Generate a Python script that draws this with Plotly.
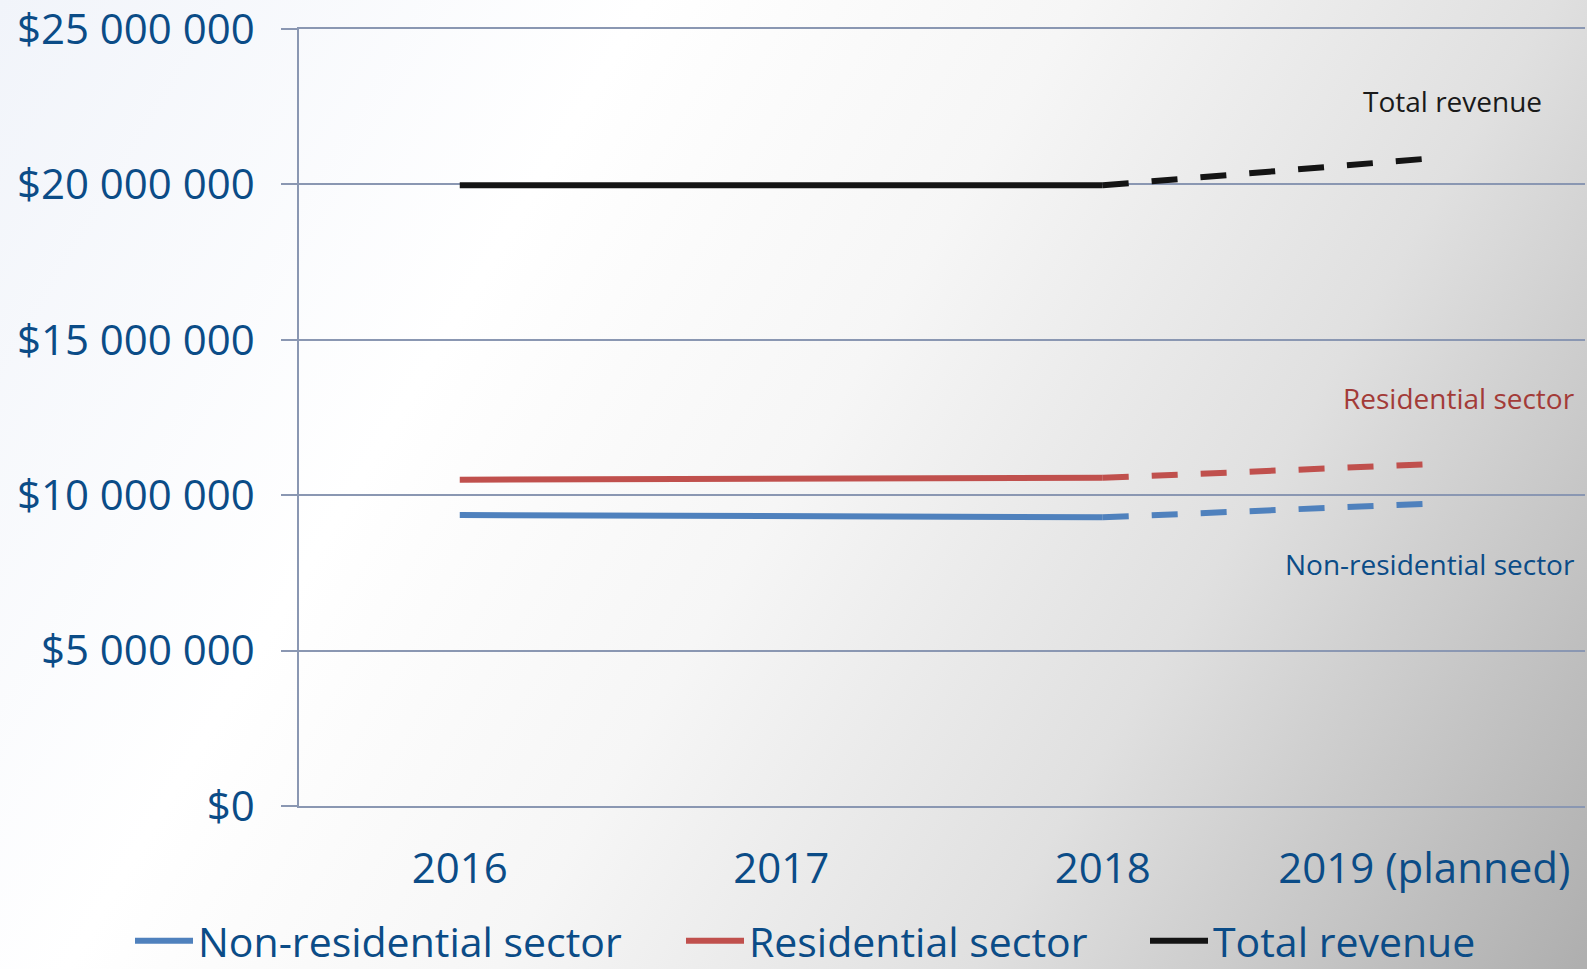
import base64
import plotly.graph_objects as go

years = ["2016", "2017", "2018", "2019 (planned)"]
non_residential = [9.36e6, 9.33e6, 9.29e6, 9.72e6]
residential = [10.50e6, 10.53e6, 10.56e6, 10.99e6]
total = [19.97e6, 19.98e6, 19.97e6, 20.82e6]
series_names = ["Non-residential sector", "Residential sector", "Total revenue"]
colors = ["#4F81BD", "#C0504D", "#141414"]
y_tickvals = [0, 5e6, 10e6, 15e6, 20e6, 25e6]
y_ticktext = ["$0", "$5 000 000", "$10 000 000", "$15 000 000", "$20 000 000", "$25 000 000"]

W, H = 1587, 969
L, R, T, B = 299, 2, 29, 163
pw, ph = W - L - R, H - T - B

TXT = "#0B4C87"
FONT = "Open Sans"
GRID = "#8A97B2"

legend_ids = ["legend", "legend2", "legend3"]
legend_x_px = [130, 681, 1145]

fig = go.Figure()
for name, vals, col, lg in zip(series_names, [non_residential, residential, total], colors, legend_ids):
    fig.add_trace(go.Scatter(x=years[:3], y=vals[:3], mode="lines", name=name,
                             line=dict(color=col, width=6), legendgroup=name, legend=lg))
    fig.add_trace(go.Scatter(x=years[2:], y=vals[2:], mode="lines", name=name,
                             line=dict(color=col, width=6, dash="26px,23px"),
                             showlegend=False, legendgroup=name, legend=lg))

svg = f'''<svg xmlns="http://www.w3.org/2000/svg" width="{W}" height="{H}" viewBox="0 0 {W} {H}" preserveAspectRatio="none">
<defs><linearGradient id="g" gradientUnits="userSpaceOnUse" x1="0" y1="0" x2="{W}" y2="952">
<stop offset="0" stop-color="#F1F4FA"/>
<stop offset="0.30" stop-color="#FFFFFF"/>
<stop offset="0.50" stop-color="#F6F6F6"/>
<stop offset="0.72" stop-color="#E0E0E0"/>
<stop offset="1" stop-color="#AFAFAF"/>
</linearGradient></defs>
<rect x="0" y="0" width="{W}" height="{H}" fill="url(#g)"/></svg>'''
src = "data:image/svg+xml;base64," + base64.b64encode(svg.encode()).decode()

legend_common = dict(orientation="h", xanchor="left", yanchor="middle",
                     bgcolor="rgba(0,0,0,0)", itemwidth=58,
                     font=dict(size=41, color=TXT, family=FONT))
legend_y = -(941 - (H - B)) / ph

fig.update_layout(
    width=W, height=H,
    margin=dict(l=L, r=R, t=T, b=B, autoexpand=False),
    paper_bgcolor="rgba(0,0,0,0)",
    plot_bgcolor="rgba(0,0,0,0)",
    font=dict(family=FONT, color=TXT),
    images=[dict(source=src, xref="paper", yref="paper",
                 x=-L / pw, y=1 + T / ph, sizex=W / pw, sizey=H / ph,
                 xanchor="left", yanchor="top", sizing="stretch", layer="below")],
    xaxis=dict(type="category", range=[-0.5, 3.5], showgrid=False, zeroline=False,
               showline=True, mirror=True, linecolor=GRID, linewidth=1.5,
               ticks="", ticklabelstandoff=25,
               tickfont=dict(size=42, color=TXT, family=FONT)),
    yaxis=dict(range=[0, 25e6], tickvals=y_tickvals, ticktext=y_ticktext,
               showgrid=True, gridcolor=GRID, gridwidth=1.5, zeroline=False,
               showline=True, linecolor=GRID, linewidth=1.5,
               ticks="outside", ticklen=16, tickcolor=GRID, tickwidth=1.5,
               ticklabelstandoff=18, ticklabeloverflow="allow",
               tickfont=dict(size=42, color=TXT, family=FONT)),
    showlegend=True,
    legend=dict(x=-(L - legend_x_px[0]) / pw, y=legend_y, **legend_common),
    legend2=dict(x=-(L - legend_x_px[1]) / pw, y=legend_y, **legend_common),
    legend3=dict(x=-(L - legend_x_px[2]) / pw, y=legend_y, **legend_common),
    annotations=[
        dict(text="Total revenue", xref="paper", yref="y", x=(1544 - L) / pw, y=22.68e6,
             xanchor="right", yanchor="middle", showarrow=False,
             font=dict(size=28, color="#1A1A1A", family=FONT)),
        dict(text="Residential sector", xref="paper", yref="y", x=(1577 - L) / pw, y=13.13e6,
             xanchor="right", yanchor="middle", showarrow=False,
             font=dict(size=28, color="#A33B38", family=FONT)),
        dict(text="Non-residential sector", xref="paper", yref="y", x=(1577 - L) / pw, y=7.79e6,
             xanchor="right", yanchor="middle", showarrow=False,
             font=dict(size=28, color=TXT, family=FONT)),
    ],
)

fig.write_html("out.html", config={"displayModeBar": False},
               post_script="document.body.style.margin='0px';document.body.style.overflow='hidden';")
